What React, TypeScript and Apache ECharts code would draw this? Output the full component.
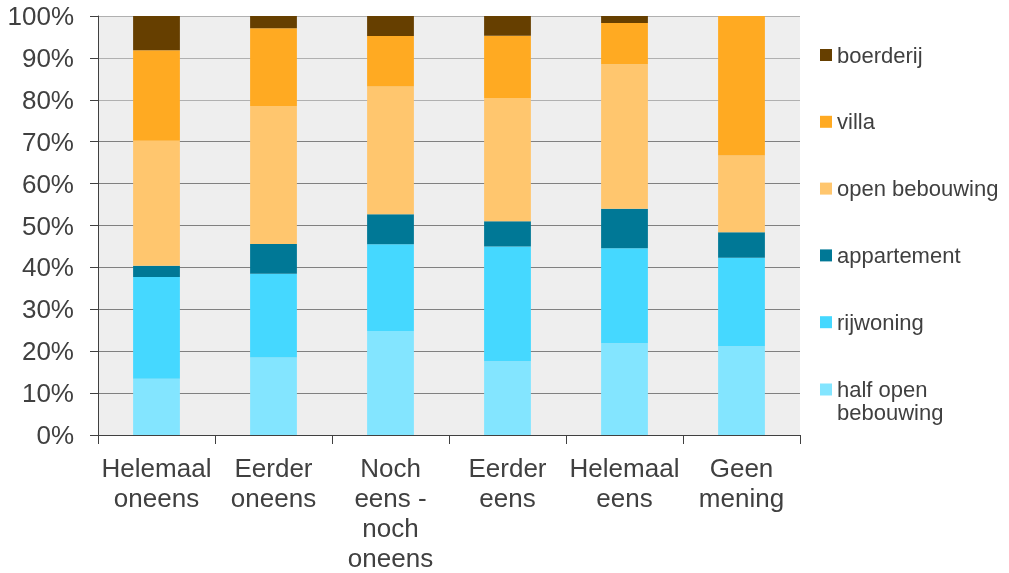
import React, { useEffect, useRef } from "react";
import * as echarts from "echarts";

const categories = [
  "Helemaal\noneens",
  "Eerder\noneens",
  "Noch\neens -\nnoch\noneens",
  "Eerder\neens",
  "Helemaal\neens",
  "Geen\nmening",
];

const halfOpen = [13.4, 18.5, 24.8, 17.6, 21.9, 21.2];
const rijwoning = [24.3, 20.0, 20.7, 27.4, 22.7, 21.1];
const appartement = [2.7, 7.1, 7.2, 6.0, 9.4, 6.1];
const openBebouwing = [29.8, 32.9, 30.5, 29.4, 34.5, 18.3];
const villa = [21.6, 18.6, 12.0, 14.9, 9.8, 33.3];
const boerderij = [8.2, 2.9, 4.8, 4.7, 1.7, 0];

const seriesDefs = [
  { name: "half open bebouwing", data: halfOpen, color: "#83E5FF" },
  { name: "rijwoning", data: rijwoning, color: "#45D8FF" },
  { name: "appartement", data: appartement, color: "#007896" },
  { name: "open bebouwing", data: openBebouwing, color: "#FFC66E" },
  { name: "villa", data: villa, color: "#FFAA22" },
  { name: "boerderij", data: boerderij, color: "#663F00" },
];

const FONT = "'Liberation Sans', Arial, sans-serif";
const TEXT = "#404040";

export default function App() {
  const ref = useRef<HTMLDivElement>(null);
  useEffect(() => {
    if (!ref.current) return;
    const chart = echarts.init(ref.current, null, { renderer: "svg" });
    chart.setOption({
      animation: false,
      textStyle: { fontFamily: FONT },
      grid: {
        left: 98,
        right: 209,
        top: 16,
        bottom: 137,
        show: true,
        backgroundColor: "#EEEEEE",
        borderWidth: 0,
      },
      legend: [
        {
          orient: "vertical",
          left: 820,
          top: 44,
          padding: 0,
          itemWidth: 12,
          itemHeight: 12,
          itemGap: 44.8,
          icon: "rect",
          textStyle: { fontSize: 22, lineHeight: 22, color: TEXT, fontFamily: FONT },
          data: ["boerderij", "villa", "open bebouwing", "appartement", "rijwoning"],
        },
        {
          orient: "vertical",
          left: 820,
          top: 355,
          padding: 0,
          itemWidth: 12,
          itemHeight: 12,
          icon: "rect",
          formatter: () => "\nhalf open\nbebouwing",
          textStyle: {
            fontSize: 22,
            lineHeight: 23,
            color: TEXT,
            fontFamily: FONT,
          },
          data: ["half open bebouwing"],
        },
      ],
      xAxis: {
        type: "category",
        data: categories,
        axisLine: { show: true, lineStyle: { color: TEXT, width: 1 } },
        axisTick: { show: true, length: 9, lineStyle: { color: TEXT } },
        axisLabel: {
          interval: 0,
          fontSize: 26,
          lineHeight: 30,
          color: TEXT,
          margin: 18,
          fontFamily: FONT,
        },
        splitLine: { show: false },
      },
      yAxis: {
        type: "value",
        min: 0,
        max: 100,
        interval: 10,
        axisLine: { show: true, lineStyle: { color: TEXT, width: 1 } },
        axisTick: { show: true, length: 8, lineStyle: { color: TEXT } },
        axisLabel: {
          formatter: "{value}%",
          fontSize: 26,
          color: TEXT,
          margin: 24,
          fontFamily: FONT,
        },
        splitLine: {
          show: true,
          lineStyle: {
            color: [
              "#808080", "#808080", "#808080", "#808080", "#808080", "#808080",
              "#808080", "#808080", "#b0b0b0", "#b0b0b0", "#b0b0b0",
            ],
            width: 1,
          },
        },
      },
      series: seriesDefs.map((s) => ({
        name: s.name,
        type: "bar",
        stack: "total",
        barWidth: "40%",
        data: s.data,
        itemStyle: { color: s.color },
      })),
    });
    return () => chart.dispose();
  }, []);
  return (
    <div
      ref={ref}
      style={{ position: "fixed", left: 0, top: 0, width: 1009, height: 573 }}
    />
  );
}
